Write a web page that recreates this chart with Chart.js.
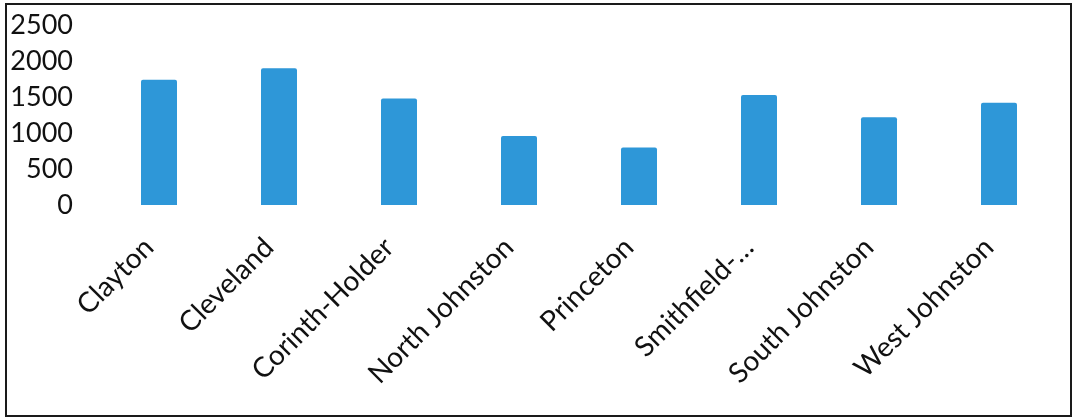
<!DOCTYPE html>
<html>
<head>
<meta charset="utf-8">
<script src="https://cdn.jsdelivr.net/npm/chart.js@4"></script>
<style>
  body { margin: 0; background: #fff; }
  #frame {
    position: absolute; left: 5px; top: 3px;
    width: 1063px; height: 410px;
    border: 2px solid #1a1a1a;
  }
</style>
</head>
<body>
<div id="frame"><canvas id="myBarChart"></canvas></div>
<script>
var schools = ['Clayton', 'Cleveland', 'Corinth-Holder', 'North Johnston', 'Princeton', 'Smithfield-\u2026', 'South Johnston', 'West Johnston'];
var counts = [1740, 1900, 1480, 960, 800, 1530, 1220, 1420];
var yMax = 2500;
var yStep = 500;

var ctx = document.getElementById('myBarChart');
var myChart = new Chart(ctx, {
    type: 'bar',
    data: {
        labels: schools,
        datasets: [{
            data: counts,
            backgroundColor: '#2e97d8',
            borderRadius: 2,
            barPercentage: 0.6,
            categoryPercentage: 0.5
        }]
    },
    options: {
        responsive: true,
        maintainAspectRatio: false,
        animation: false,
        layout: { padding: { top: 0, right: 11, left: 0, bottom: 0 } },
        plugins: { legend: { display: false }, tooltip: { enabled: false } },
        scales: {
            x: {
                grid: { display: false },
                border: { display: false },
                afterFit: function (scale) { scale.height = 210; },
                ticks: {
                    autoSkip: false,
                    minRotation: 45,
                    maxRotation: 45,
                    padding: 18,
                    labelOffset: -10,
                    color: '#111',
                    font: { family: 'Lato', size: 28 }
                }
            },
            y: {
                min: 0,
                max: yMax,
                // tick marks are hidden; tickLength only spaces the labels
                grid: { display: false, tickLength: 22 },
                border: { display: false },
                afterFit: function (scale) { scale.width = 92; },
                ticks: {
                    stepSize: yStep,
                    autoSkip: false,
                    padding: 4,
                    color: '#111',
                    font: { family: 'Lato', size: 27 },
                    callback: function (v) { return String(v); }
                }
            }
        }
    }
});
</script>
</body>
</html>
